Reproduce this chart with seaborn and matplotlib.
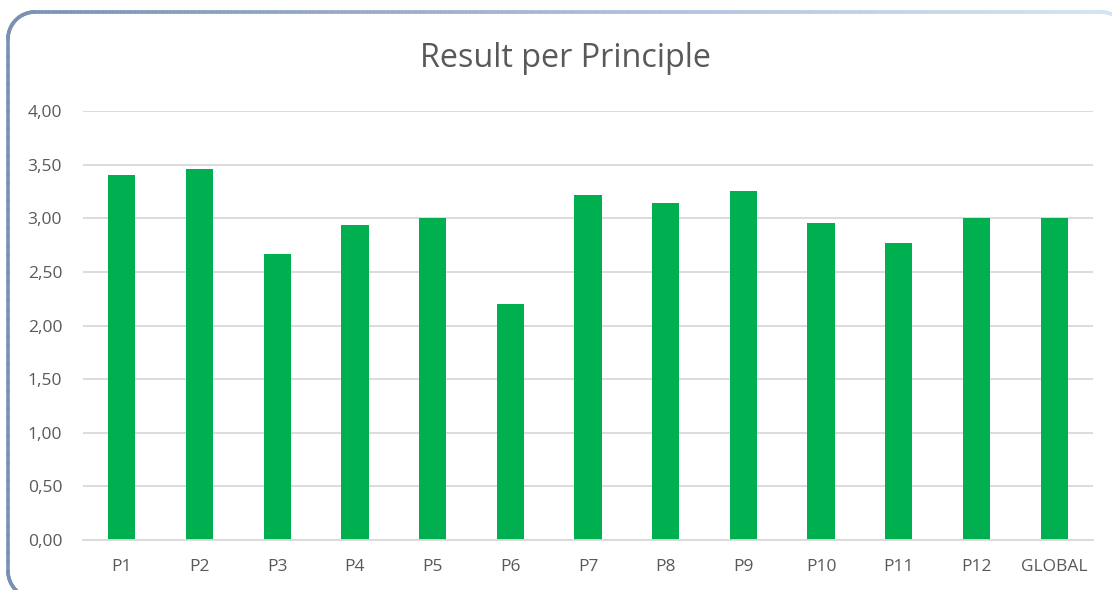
import numpy as np
import pandas as pd
import matplotlib
matplotlib.use("Agg")
import matplotlib.pyplot as plt
import seaborn as sns
from matplotlib.collections import LineCollection
from matplotlib.colors import to_rgb

categories = ["P1", "P2", "P3", "P4", "P5", "P6", "P7", "P8", "P9", "P10", "P11", "P12", "GLOBAL"]
scores = [3.40, 3.46, 2.67, 2.94, 3.00, 2.20, 3.22, 3.14, 3.25, 2.96, 2.77, 3.00, 3.00]
y_ticks = [0.0, 0.5, 1.0, 1.5, 2.0, 2.5, 3.0, 3.5, 4.0]
title_text = "Result per Principle"

sns.set_theme(style="white")
plt.rcParams["font.family"] = ["Open Sans", "DejaVu Sans"]

W, H = 1112, 590
fig = plt.figure(figsize=(W / 100, H / 100), dpi=100)
fig.patch.set_facecolor("white")

ax = fig.add_axes([83 / W, 1 - 540 / H, (1093 - 83) / W, (540 - 111) / H])
df = pd.DataFrame({"cat": categories, "score": scores})
sns.barplot(data=df, x="cat", y="score", color="#00b050", saturation=1,
            width=0.35, ax=ax, edgecolor="none")

ax.set_ylim(0, 4)
ax.set_yticks(y_ticks)
ax.set_yticklabels([f"{v:.2f}".replace(".", ",") for v in y_ticks])
ax.set_xlim(-0.5, len(categories) - 0.5)
ax.yaxis.grid(True, color="#d9d9d9", linewidth=1.3)
ax.set_axisbelow(True)
for s in ["left", "right", "top"]:
    ax.spines[s].set_visible(False)
ax.spines["bottom"].set_color("#d9d9d9")
ax.spines["bottom"].set_linewidth(1.3)
ax.tick_params(axis="both", length=0, labelsize=12.5, colors="#595959")
ax.tick_params(axis="y", pad=15)
ax.tick_params(axis="x", pad=14)
ax.set_xlabel("")
ax.set_ylabel("")

fig.text(565 / W, 1 - 67 / H, title_text, ha="center", va="baseline",
         fontsize=23.3, color="#595959")

# rounded gradient frame
x0, y0, x1, y1, r = 8, 12, 1128, 598, 27
pts = []
n = 40
for t in np.linspace(0, 1, 60):
    pts.append((x0, y1 - r - t * (y1 - y0 - 2 * r)))
for a in np.linspace(np.pi, 1.5 * np.pi, n):
    pts.append((x0 + r + r * np.cos(a), y0 + r + r * np.sin(a)))
for t in np.linspace(0, 1, 300):
    pts.append((x0 + r + t * (x1 - x0 - 2 * r), y0))
for a in np.linspace(1.5 * np.pi, 2 * np.pi, n):
    pts.append((x1 - r + r * np.cos(a), y0 + r + r * np.sin(a)))
pts2 = []
for a in np.linspace(np.pi, 0.5 * np.pi, n):
    pts2.append((x0 + r + r * np.cos(a), y1 - r + r * np.sin(a)))
for t in np.linspace(0, 1, 300):
    pts2.append((x0 + r + t * (x1 - x0 - 2 * r), y1))

c0 = np.array(to_rgb("#7991b0"))
c1 = np.array(to_rgb("#d3e4f6"))

def make_lc(p):
    p = np.array(p)
    p = np.column_stack([p[:, 0] / W, 1 - p[:, 1] / H])
    segs = np.stack([p[:-1], p[1:]], axis=1)
    xm = (segs[:, 0, 0] + segs[:, 1, 0]) / 2
    tt = np.clip(xm, 0, 1)[:, None]
    cols = c0 * (1 - tt) + c1 * tt
    return LineCollection(segs, colors=cols, linewidths=2.6,
                          transform=fig.transFigure, capstyle="round")

fig.add_artist(make_lc(pts))
fig.add_artist(make_lc(pts2))

fig.savefig("out.png", dpi=100, facecolor="white")
